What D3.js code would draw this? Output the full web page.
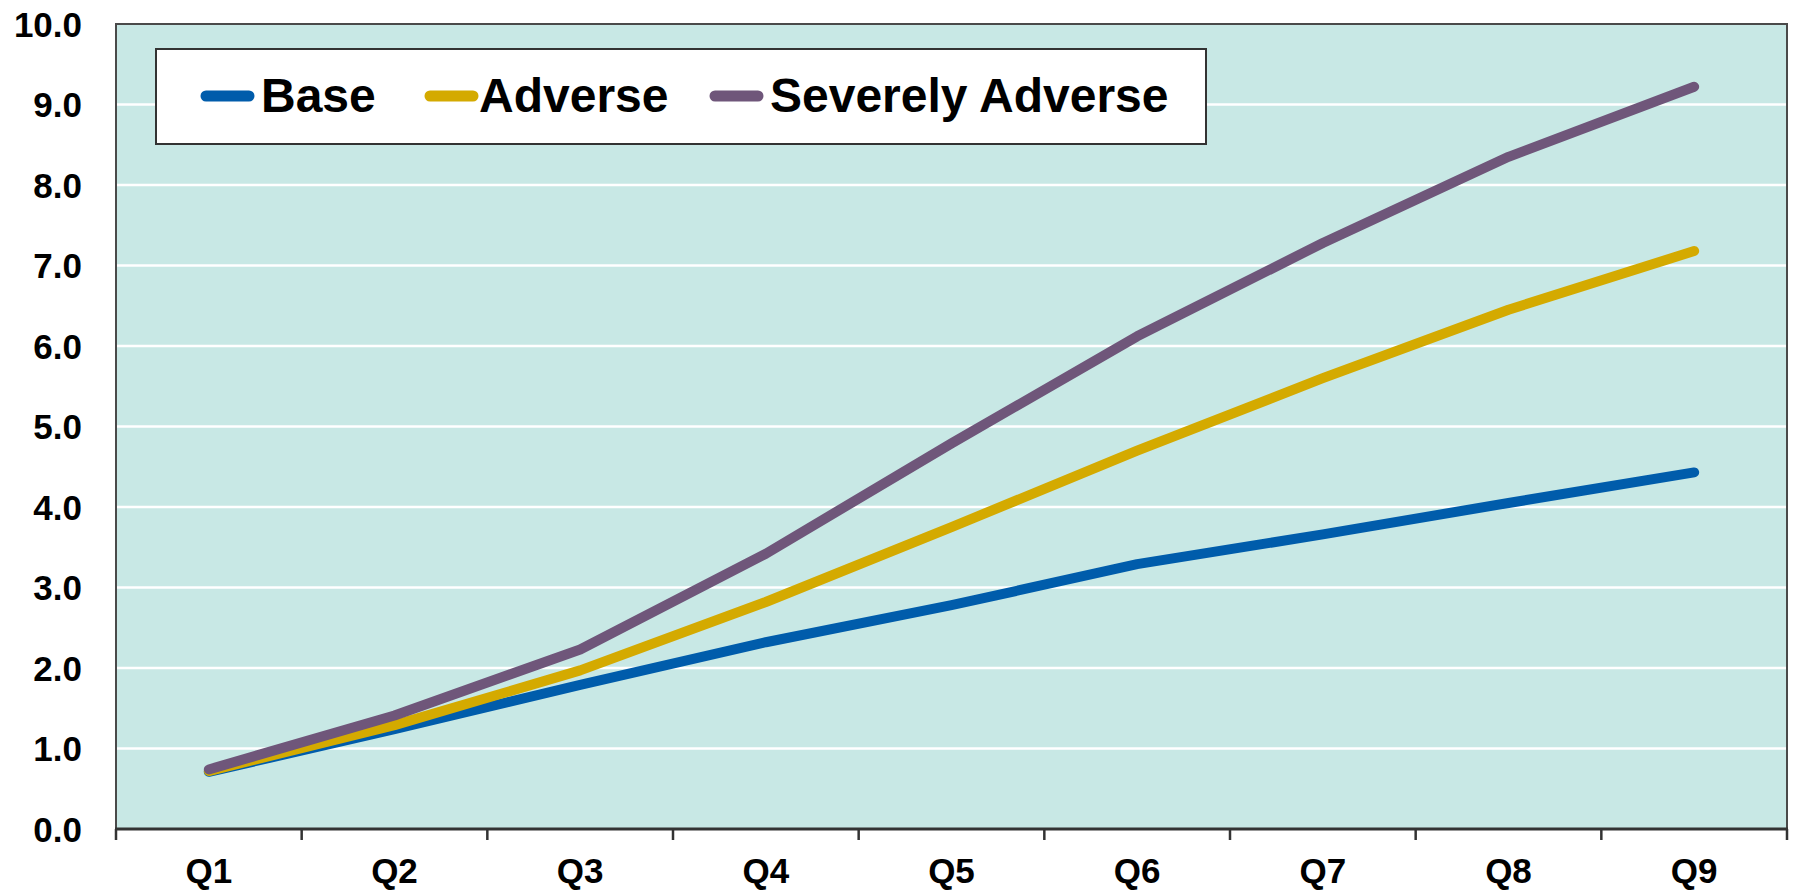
<!DOCTYPE html>
<html>
<head>
<meta charset="utf-8">
<script src="https://cdn.jsdelivr.net/npm/d3@7/dist/d3.min.js"></script>
<style>
  html, body { margin: 0; padding: 0; background: #ffffff; }
  svg { display: block; font-family: "Liberation Sans", Arial, sans-serif; }
</style>
</head>
<body>
<svg id="chart" width="1796" height="893"></svg>
<script>
// Quarters of the projection horizon
const quarters = ["Q1", "Q2", "Q3", "Q4", "Q5", "Q6", "Q7", "Q8", "Q9"];

// Scenario paths
const baseValues     = [0.71, 1.24, 1.79, 2.32, 2.78, 3.29, 3.66, 4.05, 4.43];
const adverseValues  = [0.72, 1.29, 1.97, 2.82, 3.75, 4.70, 5.60, 6.45, 7.18];
const severeValues   = [0.74, 1.41, 2.23, 3.42, 4.79, 6.12, 7.28, 8.35, 9.22];

const seriesNames  = ["Base", "Adverse", "Severely Adverse"];
const seriesColors = ["#005CAB", "#D4AA00", "#6F567A"];

// Y-axis ticks
const yTicks = [0, 1, 2, 3, 4, 5, 6, 7, 8, 9, 10];

const series = [
  { name: seriesNames[0], color: seriesColors[0], values: baseValues },
  { name: seriesNames[1], color: seriesColors[1], values: adverseValues },
  { name: seriesNames[2], color: seriesColors[2], values: severeValues }
];

const svg = d3.select("#chart");
const plot = { left: 116, top: 24, right: 1787, bottom: 829 };

const x = d3.scaleBand()
  .domain(quarters)
  .range([plot.left, plot.right])
  .paddingInner(0).paddingOuter(0);

const y = d3.scaleLinear()
  .domain([0, 10])
  .range([plot.bottom, plot.top]);

// Plot background
svg.append("rect")
  .attr("x", plot.left).attr("y", plot.top)
  .attr("width", plot.right - plot.left)
  .attr("height", plot.bottom - plot.top)
  .attr("fill", "#C8E8E5");

// Horizontal gridlines
svg.append("g")
  .selectAll("line")
  .data(yTicks.filter(d => d > 0 && d < 10))
  .join("line")
  .attr("x1", plot.left).attr("x2", plot.right)
  .attr("y1", d => y(d)).attr("y2", d => y(d))
  .attr("stroke", "#ffffff")
  .attr("stroke-width", 2.5);

// Plot frame
svg.append("rect")
  .attr("x", plot.left).attr("y", plot.top)
  .attr("width", plot.right - plot.left)
  .attr("height", plot.bottom - plot.top)
  .attr("fill", "none")
  .attr("stroke", "#4a4a4a")
  .attr("stroke-width", 2);

// Y-axis labels
svg.append("g")
  .selectAll("text")
  .data(yTicks)
  .join("text")
  .attr("x", plot.left - 34)
  .attr("y", d => y(d) + 12.5)
  .attr("text-anchor", "end")
  .attr("font-size", 35)
  .attr("font-weight", "bold")
  .attr("fill", "#000")
  .text(d => d3.format(".1f")(d));

// X-axis with outward ticks at category boundaries
const boundaries = quarters.map(q => x(q)).concat([plot.right]);
svg.append("g")
  .selectAll("line")
  .data(boundaries)
  .join("line")
  .attr("x1", d => d).attr("x2", d => d)
  .attr("y1", plot.bottom).attr("y2", plot.bottom + 11)
  .attr("stroke", "#333")
  .attr("stroke-width", 2.5);

svg.append("line")
  .attr("x1", plot.left - 1).attr("x2", plot.right + 1)
  .attr("y1", plot.bottom).attr("y2", plot.bottom)
  .attr("stroke", "#333")
  .attr("stroke-width", 3);

svg.append("g")
  .selectAll("text")
  .data(quarters)
  .join("text")
  .attr("x", d => x(d) + x.bandwidth() / 2)
  .attr("y", 883)
  .attr("text-anchor", "middle")
  .attr("font-size", 35)
  .attr("font-weight", "bold")
  .attr("fill", "#000")
  .text(d => d);

// Scenario lines
const line = d3.line()
  .x((d, i) => x(quarters[i]) + x.bandwidth() / 2)
  .y(d => y(d));

svg.append("g")
  .selectAll("path")
  .data(series)
  .join("path")
  .attr("d", d => line(d.values))
  .attr("fill", "none")
  .attr("stroke", d => d.color)
  .attr("stroke-width", 10)
  .attr("stroke-linecap", "round")
  .attr("stroke-linejoin", "round");

// Legend
const legend = svg.append("g");
legend.append("rect")
  .attr("x", 156).attr("y", 49)
  .attr("width", 1050).attr("height", 95)
  .attr("fill", "#ffffff")
  .attr("stroke", "#333")
  .attr("stroke-width", 2);

const legendY = 96;
const swatchX = [201, 425, 710];
const labelX  = [261, 479, 770];
series.forEach((s, i) => {
  legend.append("line")
    .attr("x1", swatchX[i] + 5).attr("x2", swatchX[i] + 48)
    .attr("y1", legendY).attr("y2", legendY)
    .attr("stroke", s.color)
    .attr("stroke-width", 11)
    .attr("stroke-linecap", "round");
  legend.append("text")
    .attr("x", labelX[i])
    .attr("y", legendY + 16)
    .attr("font-size", 48)
    .attr("font-weight", "bold")
    .attr("fill", "#000")
    .text(s.name);
});
</script>
</body>
</html>
